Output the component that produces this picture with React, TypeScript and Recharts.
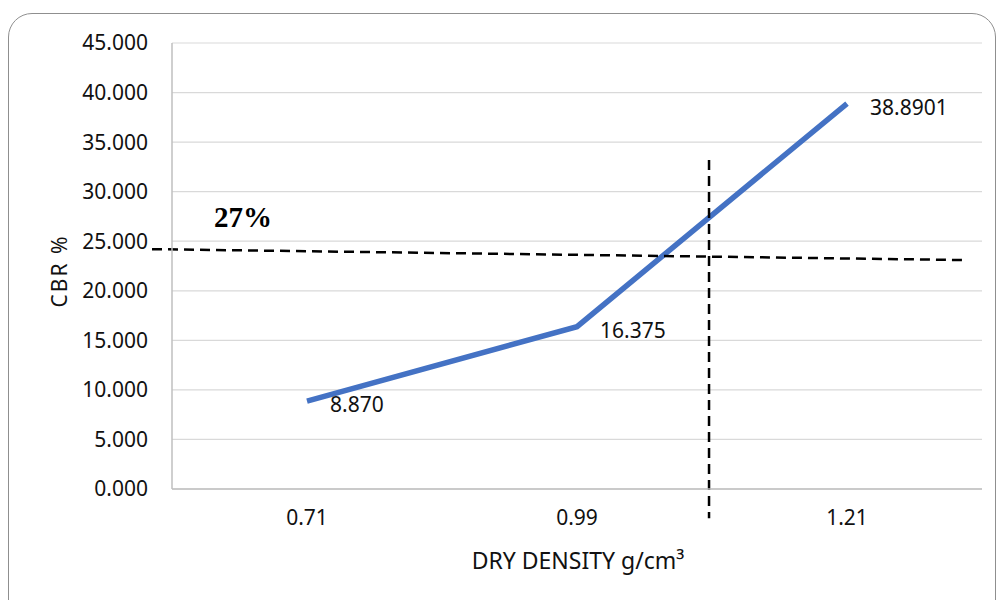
import { LineChart, Line, XAxis, YAxis, CartesianGrid, ReferenceLine, ReferenceDot, LabelList, Label } from 'recharts';

const densities = ['0.71', '0.99', '1.21'];
const cbrValues = [8.87, 16.375, 38.8901];
const cbrLabels = ['8.870', '16.375', '38.8901'];
const yTicks = [0, 5, 10, 15, 20, 25, 30, 35, 40, 45];

// guide lines, in (band position, CBR) units
const hGuide = [{ x: -0.074, y: 24.2 }, { x: 2.937, y: 23.1 }];
const vGuide = [{ x: 1.989, y: 33.2 }, { x: 1.989, y: -2.95 }];
const noteText = '27%';
const notePos = { x: 0.263, y: 27.4 };

// pos = centre of each category band on a 0..3 scale
const data = densities.map((d, i) => ({ density: d, pos: i + 0.5, cbr: cbrValues[i], label: cbrLabels[i] }));

const FONT = '"Noto Sans", sans-serif';
const guideStyle = { stroke: '#000', strokeWidth: 2.5, strokeDasharray: '10 6' };

function PointLabel(props: any) {
  const { x, y, value } = props;
  return (
    <text x={x + 23} y={y + 3} fontFamily={FONT} fontSize={21} fill="#111" dominantBaseline="central">
      {value}
    </text>
  );
}

export default function App() {
  return (
    <>
      <div
        style={{
          position: 'fixed', left: 8, top: 13, width: 986, height: 650,
          border: '1.5px solid #8f8f8f', borderRadius: 24, background: '#fff',
        }}
      />
      <div style={{ position: 'fixed', left: 0, top: 0 }}>
        <LineChart width={997} height={600} data={data} margin={{ top: 43, right: 15, bottom: 0, left: 0 }}>
          <CartesianGrid horizontal vertical={false} stroke="#d9d9d9" strokeWidth={1.2} />
          <XAxis
            dataKey="density"
            scale="band"
            height={111}
            tickLine={false}
            tickSize={0}
            tickMargin={21}
            axisLine={{ stroke: '#bfbfbf', strokeWidth: 1.5 }}
            tick={{ fontFamily: FONT, fontSize: 21, fill: '#111' }}
          >
            <Label
              content={() => (
                <text x={578} y={560} textAnchor="middle" dominantBaseline="central" fontFamily={FONT} fontSize={23} fill="#111">
                  DRY DENSITY g/cm³
                </text>
              )}
            />
          </XAxis>
          <XAxis xAxisId="num" dataKey="pos" type="number" domain={[0, 3]} allowDataOverflow hide />
          <YAxis
            width={172}
            domain={[0, 45]}
            ticks={yTicks}
            interval={0}
            tickFormatter={(v: number) => v.toFixed(3)}
            tickLine={false}
            tickSize={0}
            tickMargin={24}
            axisLine={{ stroke: '#bfbfbf', strokeWidth: 1.5 }}
            tick={{ fontFamily: FONT, fontSize: 21, fill: '#111' }}
          >
            <Label
              content={() => (
                <text x={59} y={271} transform="rotate(-90, 59, 271)" textAnchor="middle" dominantBaseline="central" fontFamily={FONT} fontSize={21} letterSpacing={2} fill="#111">
                  CBR %
                </text>
              )}
            />
          </YAxis>
          <Line
            dataKey="cbr"
            stroke="#4472C4"
            strokeWidth={5.5}
            dot={false}
            activeDot={false}
            isAnimationActive={false}
          >
            <LabelList dataKey="label" content={PointLabel} />
          </Line>
          <ReferenceLine xAxisId="num" segment={hGuide} ifOverflow="visible" {...guideStyle} />
          <ReferenceLine xAxisId="num" segment={vGuide} ifOverflow="visible" {...guideStyle} />
          <ReferenceDot
            xAxisId="num"
            x={notePos.x}
            y={notePos.y}
            r={0}
            ifOverflow="visible"
            label={(p: any) => (
              <text
                x={p.viewBox ? p.viewBox.x + (p.viewBox.width || 0) / 2 : 0}
                y={p.viewBox ? p.viewBox.y + (p.viewBox.height || 0) / 2 : 0}
                textAnchor="middle"
                dominantBaseline="central"
                fontFamily='"Liberation Serif", serif'
                fontWeight="bold"
                fontSize={29}
                fill="#000"
              >
                {noteText}
              </text>
            )}
          />
        </LineChart>
      </div>
    </>
  );
}
